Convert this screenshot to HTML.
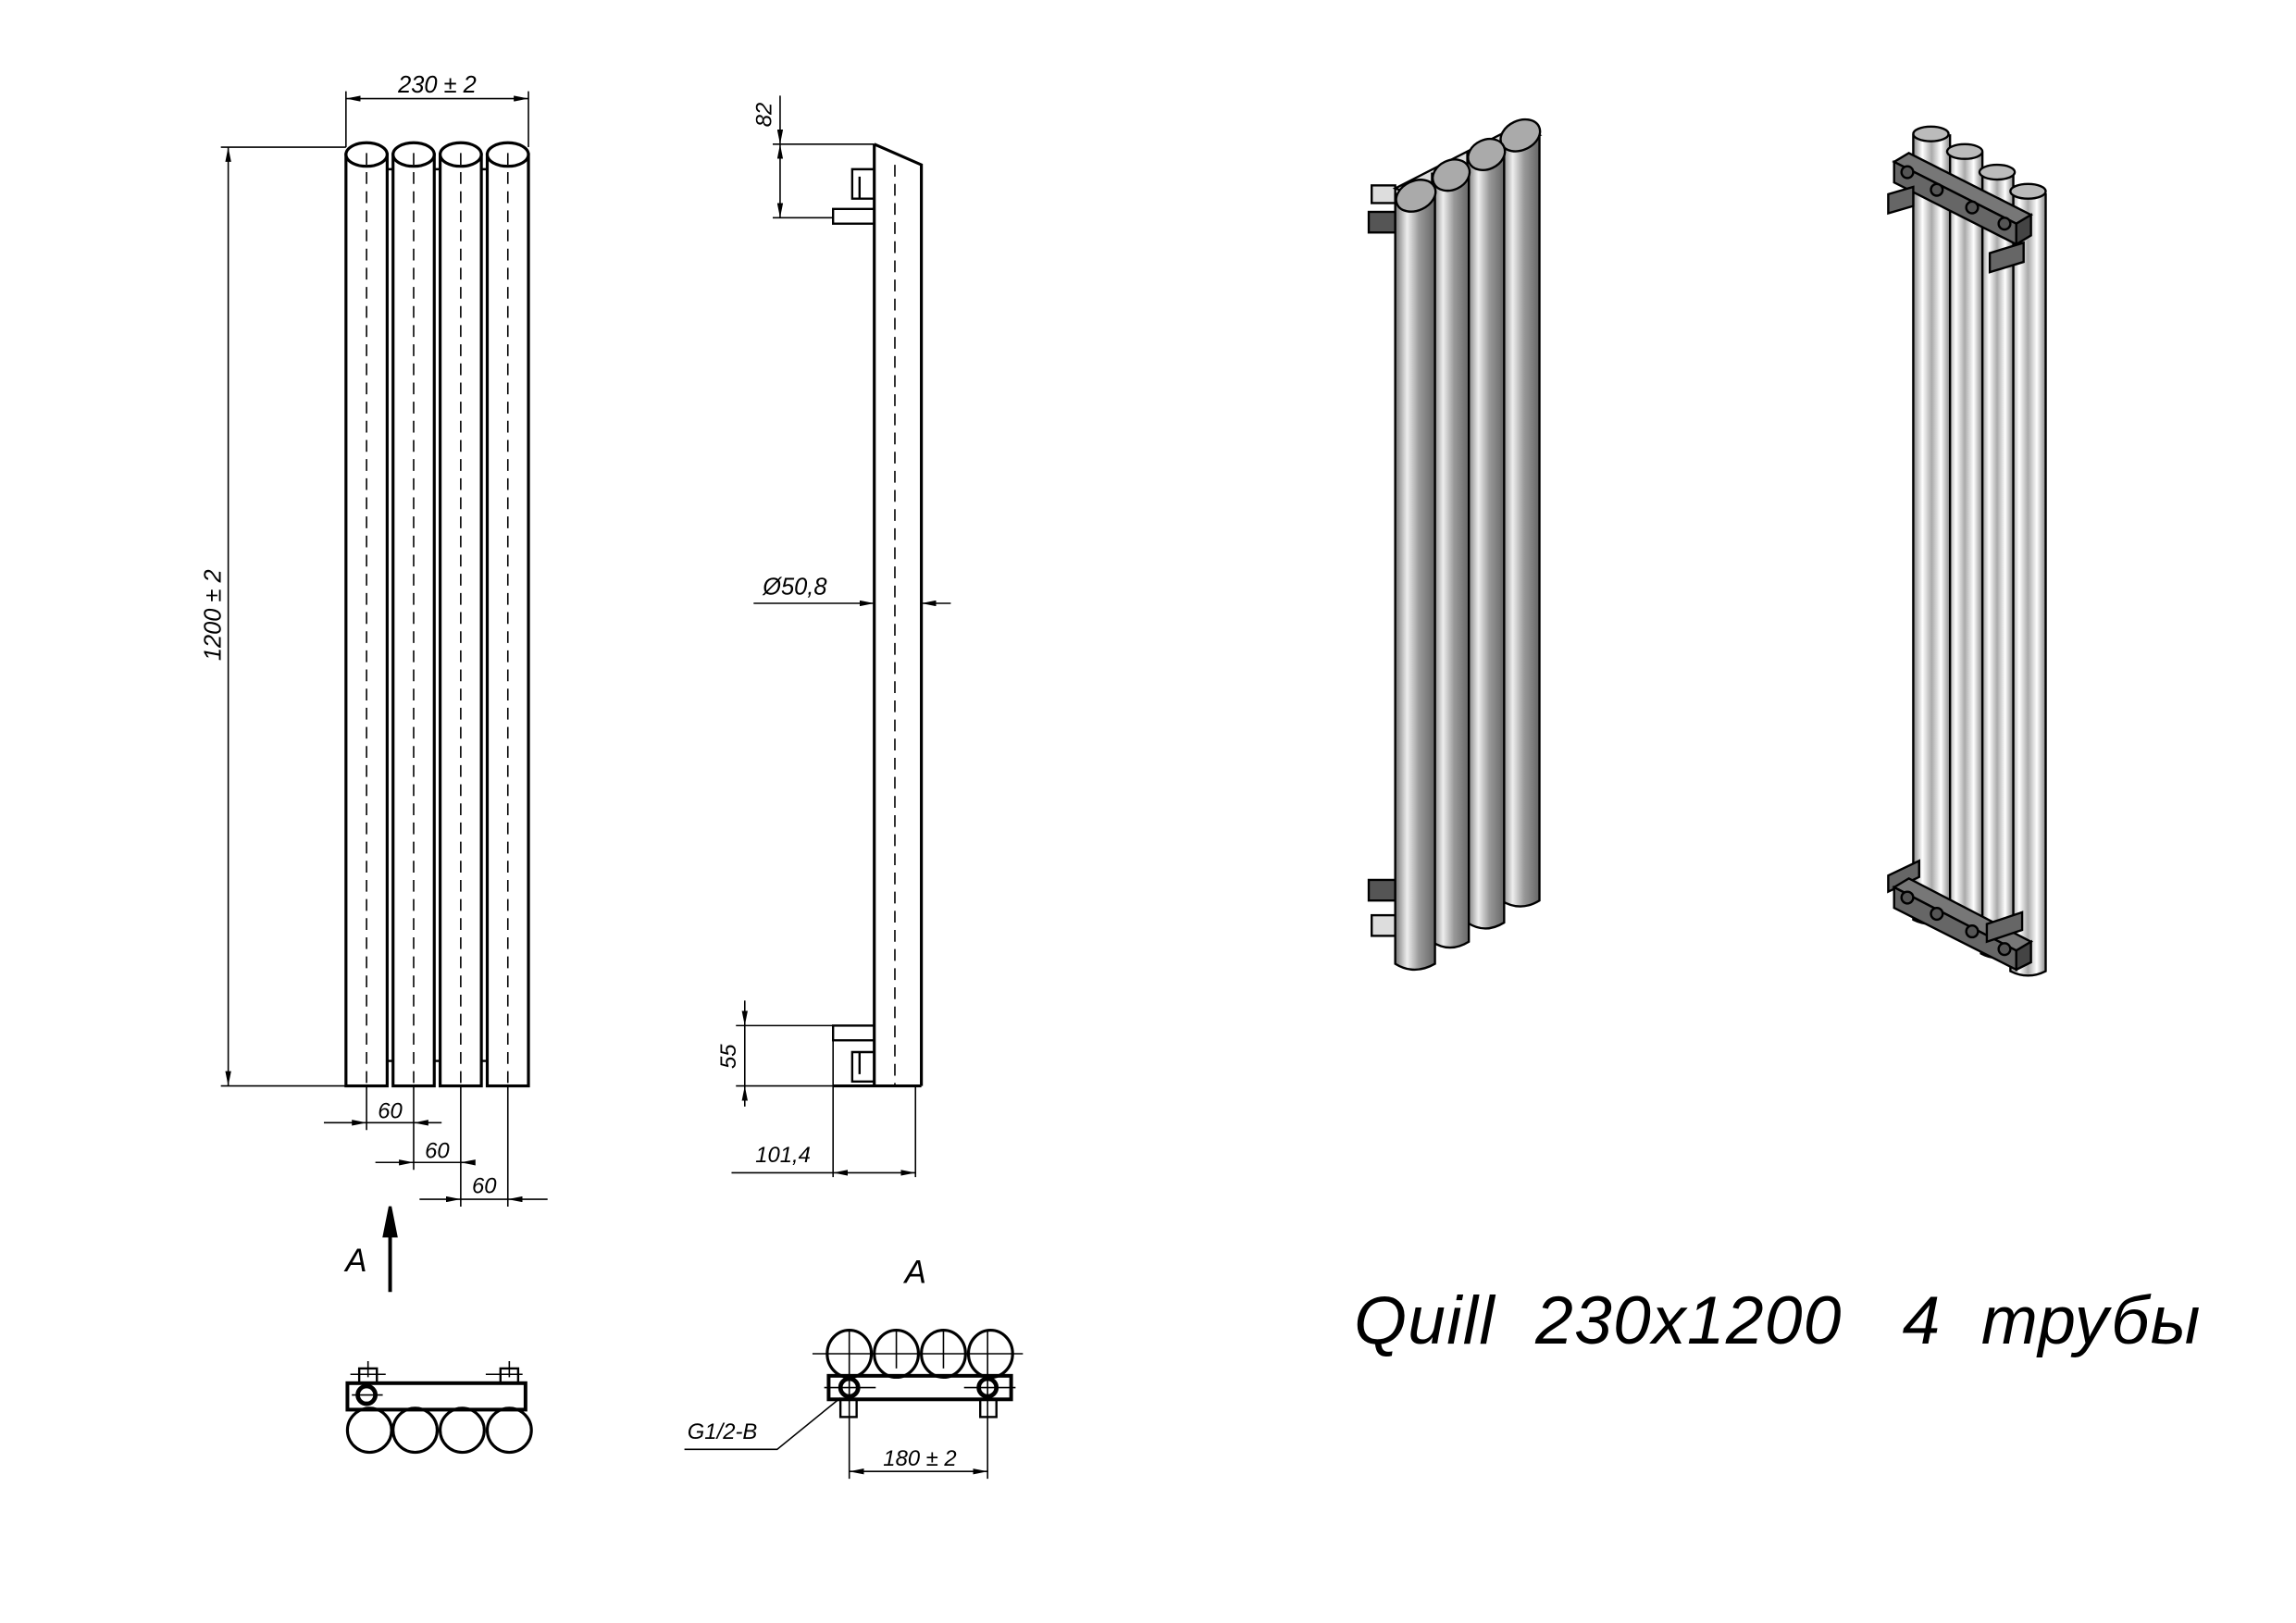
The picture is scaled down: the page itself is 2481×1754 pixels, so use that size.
<!DOCTYPE html>
<html><head><meta charset="utf-8"><style>
html,body{margin:0;padding:0;background:#fff}
svg{display:block}
text{font-family:"Liberation Sans","Noto Sans CJK SC",sans-serif;font-style:italic;fill:#000}
</style></head><body>
<svg width="2481" height="1754" viewBox="0 0 1560 1103" xmlns="http://www.w3.org/2000/svg">
<defs>
<marker id="a" viewBox="0 0 10 4" refX="10" refY="2" markerWidth="10" markerHeight="4" orient="auto-start-reverse" markerUnits="userSpaceOnUse"><path d="M0,0L10,2L0,4z" fill="#000"/></marker>
<linearGradient id="g" x1="0" x2="1"><stop offset="0" stop-color="#777"/><stop offset=".3" stop-color="#eee"/><stop offset=".6" stop-color="#999"/><stop offset="1" stop-color="#666"/></linearGradient>
<linearGradient id="g2" x1="0" x2="1"><stop offset="0" stop-color="#888"/><stop offset=".25" stop-color="#fff"/><stop offset=".5" stop-color="#aaa"/><stop offset=".75" stop-color="#fff"/><stop offset="1" stop-color="#888"/></linearGradient>
</defs>
<g stroke="#000" fill="none" stroke-width="2">
<rect x="235" y="105" width="28" height="633"/><rect x="267" y="105" width="28" height="633"/>
<rect x="299" y="105" width="28" height="633"/><rect x="331" y="105" width="28" height="633"/>
<g fill="#fff"><ellipse cx="249" cy="105" rx="14" ry="8"/><ellipse cx="281" cy="105" rx="14" ry="8"/><ellipse cx="313" cy="105" rx="14" ry="8"/><ellipse cx="345" cy="105" rx="14" ry="8"/></g>
<g stroke-width="1" stroke-dasharray="8,5"><path d="M249 104V738M281 104V738M313 104V738M345 104V738"/></g>
<path d="M263 115H267M295 115H299M327 115H331M263 721H267M295 721H299M327 721H331" stroke-width="1.5"/>
<g stroke-width="1">
<path d="M235 100V62M359 100V62"/><path d="M235 67H359" marker-start="url(#a)" marker-end="url(#a)"/>
<path d="M150 100H235M150 738H235"/><path d="M155 100V738" marker-start="url(#a)" marker-end="url(#a)"/>
<path d="M249 738V768M281 738V795M313 738V820M345 738V820"/>
<path d="M220 763H249" marker-end="url(#a)"/><path d="M281 763H300" marker-start="url(#a)"/><path d="M249 763H281"/>
<path d="M255 790H281" marker-end="url(#a)"/><path d="M313 790H322" marker-start="url(#a)"/><path d="M281 790H313"/>
<path d="M285 815H313" marker-end="url(#a)"/><path d="M345 815H372" marker-start="url(#a)"/><path d="M313 815H345"/>
</g>
<path d="M594 98V738M594 98L626 112V738M566 738H626"/>
<path d="M608 112V738" stroke-width="1" stroke-dasharray="8,5"/>
<path d="M594 115H579V135H594M584 120V135" stroke-width="1.5"/>
<rect x="566" y="142" width="28" height="10" stroke-width="1.5"/>
<rect x="566" y="697" width="28" height="10" stroke-width="1.5"/>
<path d="M594 715H579V735H594M584 715V730" stroke-width="1.5"/>
<g stroke-width="1">
<path d="M525 98H594M525 148H566"/><path d="M530 65V98" marker-end="url(#a)"/><path d="M530 98V148" marker-start="url(#a)" marker-end="url(#a)"/>
<path d="M512 410H594" marker-end="url(#a)"/><path d="M646 410H626" marker-end="url(#a)"/>
<path d="M500 697H566M500 738H566"/><path d="M506 680V697" marker-end="url(#a)"/><path d="M506 752V738" marker-end="url(#a)"/><path d="M506 697V738"/>
<path d="M566 707V800M622 738V800"/><path d="M497 797H566"/><path d="M566 797H622" marker-start="url(#a)" marker-end="url(#a)"/>
</g>
<path d="M265 878V830" stroke-width="2.5"/><path d="M261 840L265 820L269 840z" fill="#000"/>
<rect x="236" y="940" width="121" height="18" stroke-width="2.5"/>
<rect x="244" y="930" width="12" height="10" stroke-width="1.5"/><rect x="340" y="930" width="12" height="10" stroke-width="1.5"/>
<circle cx="249" cy="948" r="6" stroke-width="3"/>
<ellipse cx="251" cy="972" rx="15" ry="15"/><ellipse cx="282" cy="972" rx="15" ry="15"/><ellipse cx="314" cy="972" rx="15" ry="15"/><ellipse cx="346" cy="972" rx="15" ry="15"/>
<path d="M239 948H260M250 925V936M346 925V936M330 934H355M238 934H262" stroke-width="1"/>
<ellipse cx="577" cy="920" rx="15" ry="16"/><ellipse cx="609" cy="920" rx="15" ry="16"/><ellipse cx="641" cy="920" rx="15" ry="16"/><ellipse cx="673" cy="920" rx="15" ry="16"/>
<rect x="563" y="935" width="124" height="16" stroke-width="2.5"/>
<circle cx="577" cy="943" r="6" stroke-width="3"/><circle cx="671" cy="943" r="6" stroke-width="3"/>
<rect x="571" y="951" width="11" height="12" stroke-width="1.5"/><rect x="666" y="951" width="11" height="12" stroke-width="1.5"/>
<g stroke-width="1">
<path d="M552 920H695M577 904V1005M609 904V930M641 904V930M671 904V1005M560 943H595M655 943H690"/>
<path d="M465 985H528L571 950" /><path d="M577 1000H671" marker-start="url(#a)" marker-end="url(#a)"/>
</g>
</g>
<text x="297" y="63" font-size="16" text-anchor="middle">230 ± 2</text>
<text transform="translate(150,418) rotate(-90)" font-size="16" text-anchor="middle">1200 ± 2</text>
<text x="265" y="760" font-size="15" text-anchor="middle">60</text>
<text x="297" y="787" font-size="15" text-anchor="middle">60</text>
<text x="329" y="811" font-size="15" text-anchor="middle">60</text>
<text transform="translate(524,78) rotate(-90)" font-size="15" text-anchor="middle">82</text>
<text x="540" y="404" font-size="16" text-anchor="middle">Ø50,8</text>
<text transform="translate(500,718) rotate(-90)" font-size="15" text-anchor="middle">55</text>
<text x="532" y="790" font-size="15" text-anchor="middle">101,4</text>
<text x="242" y="864" font-size="22" text-anchor="middle">A</text>
<text x="622" y="872" font-size="22" text-anchor="middle">A</text>
<text x="467" y="978" font-size="15">G1/2-B</text>
<text x="625" y="996" font-size="15" text-anchor="middle">180 ± 2</text>
<text x="920" y="913" font-size="46" textLength="575" lengthAdjust="spacing" xml:space="preserve">Quill  230x1200   4  трубы</text>
<g stroke="#000" stroke-width="1.5">
<rect x="932" y="126" width="16" height="12" fill="#ddd"/><rect x="930" y="144" width="18" height="14" fill="#555"/>
<rect x="930" y="598" width="18" height="14" fill="#555"/><rect x="932" y="622" width="16" height="14" fill="#ddd"/>
<path d="M948 128L1030 86L1046 92L964 134z" fill="#ddd"/>
<path d="M1020 92V612Q1033 620 1046 612V92z" fill="url(#g)"/>
<path d="M997 104V627Q1009 635 1022 627V104z" fill="url(#g)"/>
<path d="M973 118V640Q985 648 998 640V118z" fill="url(#g)"/>
<path d="M948 132V655Q961 663 975 655V132z" fill="url(#g)"/>
<ellipse cx="1033" cy="92" rx="14" ry="10" transform="rotate(-25 1033 92)" fill="#aaa"/>
<ellipse cx="1010" cy="105" rx="13" ry="10" transform="rotate(-25 1010 105)" fill="#aaa"/>
<ellipse cx="986" cy="119" rx="13" ry="10" transform="rotate(-25 986 119)" fill="#aaa"/>
<ellipse cx="962" cy="133" rx="14" ry="10" transform="rotate(-25 962 133)" fill="#aaa"/>
</g>
<g stroke="#000" stroke-width="1.5">
<path d="M1366 130V660Q1378 666 1390 660V132z" fill="url(#g2)"/>
<path d="M1346 118V648Q1357 654 1368 648V118z" fill="url(#g2)"/>
<path d="M1323 104V635Q1335 641 1347 635V104z" fill="url(#g2)"/>
<path d="M1300 92V625Q1312 631 1325 625V92z" fill="url(#g2)"/>
<ellipse cx="1312" cy="91" rx="12" ry="5" fill="#bbb"/><ellipse cx="1335" cy="103" rx="12" ry="5" fill="#bbb"/>
<ellipse cx="1357" cy="117" rx="12" ry="5" fill="#bbb"/><ellipse cx="1378" cy="130" rx="12" ry="5" fill="#bbb"/>
<path d="M1287 110L1297 104L1380 146L1370 152z" fill="#777"/>
<path d="M1287 110V124L1370 166V152z" fill="#666"/><path d="M1370 152L1380 146V160L1370 166z" fill="#444"/>
<path d="M1283 132L1300 127V140L1283 145z" fill="#666"/><path d="M1352 172L1375 165V178L1352 185z" fill="#666"/>
<path d="M1283 595L1304 585V596L1283 606z" fill="#666"/>
<path d="M1287 603L1297 597L1380 640L1370 646z" fill="#777"/>
<path d="M1287 603V617L1370 659V646z" fill="#666"/><path d="M1370 646L1380 640V654L1370 659z" fill="#444"/>
<path d="M1350 628L1374 620V632L1350 640z" fill="#666"/>
<g fill="#555"><circle cx="1296" cy="117" r="4"/><circle cx="1316" cy="129" r="4"/><circle cx="1340" cy="141" r="4"/><circle cx="1362" cy="152" r="4"/>
<circle cx="1296" cy="610" r="4"/><circle cx="1316" cy="621" r="4"/><circle cx="1340" cy="633" r="4"/><circle cx="1362" cy="645" r="4"/></g>
</g>
</svg>
</body></html>
